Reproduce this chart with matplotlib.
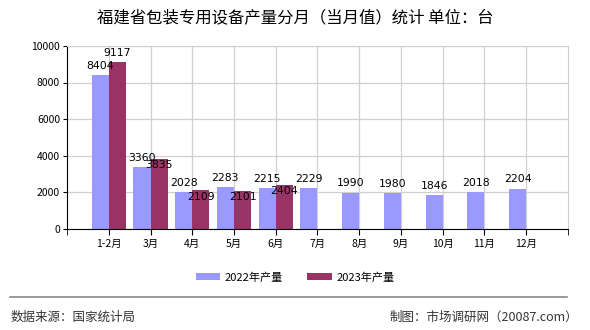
import matplotlib.pyplot as plt
import numpy as np

plt.rcParams['font.family'] = ['Noto Sans CJK SC', 'DejaVu Sans']

# monthly output, units
months = ["1-2月", "3月", "4月", "5月", "6月", "7月", "8月", "9月", "10月", "11月", "12月"]
output_2022 = [8404, 3360, 2028, 2283, 2215, 2229, 1990, 1980, 1846, 2018, 2204]
output_2023 = [9117, 3835, 2109, 2101, 2404]

c22 = "#9999ff"
c23 = "#993366"

fig = plt.figure(figsize=(5.9, 3.3), dpi=100)
ax = fig.add_axes([0.1136, 0.306, 0.849, 0.555])

x = np.arange(len(months))
w = 0.41
b22 = ax.bar(x - w / 2, output_2022, width=w, color=c22, label="2022年产量", zorder=2)
b23 = ax.bar(x[:len(output_2023)] + w / 2, output_2023, width=w, color=c23,
             label="2023年产量", zorder=2)

for rect, v in zip(b22, output_2022):
    ax.annotate(str(v), (rect.get_x() + rect.get_width() / 2, v), xytext=(0, 3),
                textcoords="offset points", ha="center", va="bottom",
                fontsize=7.8, family="DejaVu Sans", zorder=3)
for rect, v, v0 in zip(b23, output_2023, output_2022):
    # put the label inside when it would collide with the 2022 label
    dy = 3 if v - v0 > 600 else -1
    ax.annotate(str(v), (rect.get_x() + rect.get_width() / 2, v), xytext=(0, dy),
                textcoords="offset points", ha="center",
                va="bottom" if dy > 0 else "top",
                fontsize=7.8, family="DejaVu Sans", zorder=3)

ax.set_xlim(-1, len(months))
ax.set_ylim(0, 10000)
ax.set_yticks(range(0, 10001, 2000))
ax.set_xticks(x)
ax.set_xticklabels(months, fontsize=7.5)
ax.set_xticks([-1, len(months)], minor=True)
ax.tick_params(axis='y', labelsize=7.5, length=3, pad=2)
ax.tick_params(axis='x', which='both', length=4, pad=3)
ax.grid(True, color="#d0d0d0", linewidth=0.9, zorder=0)
ax.set_axisbelow(True)
for s in ["top", "right"]:
    ax.spines[s].set_color("#d0d0d0")
for s in ["left", "bottom"]:
    ax.spines[s].set_color("black")

fig.text(0.5, 0.945, "福建省包装专用设备产量分月（当月值）统计 单位：台",
         ha="center", va="center", fontsize=11.8)

fig.legend(handles=[b22, b23], loc="center", bbox_to_anchor=(0.5, 0.16), ncol=2,
           frameon=False, fontsize=8, handlelength=2.2, handleheight=0.7,
           columnspacing=2.2, handletextpad=0.4)

fig.add_artist(plt.Line2D([0.017, 0.961], [0.10, 0.10], color="#888888", linewidth=1.2))
fig.text(0.017, 0.04, "数据来源：国家统计局", ha="left", va="center", fontsize=9, color="#333333")
fig.text(0.98, 0.04, "制图：市场调研网（20087.com）", ha="right", va="center", fontsize=9, color="#333333")

fig.savefig("out.png", dpi=100)
